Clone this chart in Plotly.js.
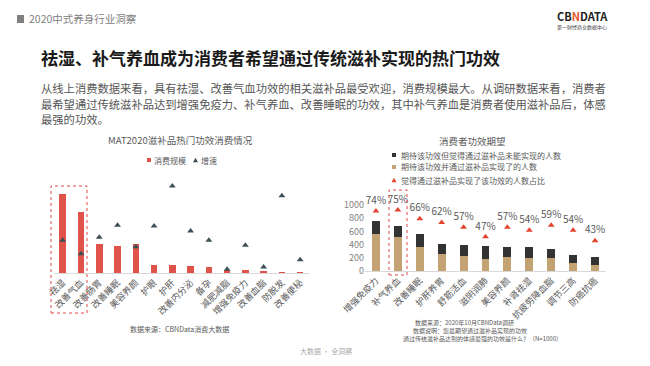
<!DOCTYPE html>
<html><head><meta charset="utf-8">
<script src="https://cdn.plot.ly/plotly-3.0.1.min.js"></script>
<style>html,body{margin:0;padding:0;background:#fff;} #chart{width:650px;height:366px;}</style>
</head><body><div id="chart"></div>
<script>
// ---- Left chart data (MAT2020 滋补品热门功效消费情况) ----
const leftCategories = ['祛湿','改善气血','改善肠胃','改善睡眠','美容养颜','护眼','护肝','改善内分泌','备孕','减肥减脂','增强免疫力','改善血脂','防脱发','改善便秘'];
const leftScale = [100, 77, 37, 34, 37, 9.6, 9.6, 8.4, 7.6, 4.2, 3.8, 2.0, 1.6, 1.6];      // 消费规模 (index)
const leftGrowth = [41.4, 24.4, 45.2, 60.4, 33.3, 59.5, 110.1, 53.2, 41.4, 4.7, 35.1, 7.6, 97.8, 16.8]; // 增速 (index)

// ---- Right chart data (消费者功效期望) ----
const rightCategories = ['增强免疫力','补气养血','改善睡眠','护肝养胃','舒筋活血','滋阴润肺','美容养颜','补肾祛湿','抗疲劳降血脂','调节三高','防癌抗癌'];
const achieved = [561, 510, 369, 253, 227, 177, 207, 192, 197, 126, 91];
const notAchieved = [197, 167, 187, 151, 167, 202, 157, 167, 136, 111, 121];
const ratio = [74, 75, 66, 62, 57, 47, 57, 54, 59, 54, 43];
const rightTicks = [0, 200, 400, 600, 800, 1000];

const W = 650, H = 366;
const px = x => x / W;
const py = y => 1 - y / H;
const FONT = '"Noto Sans CJK SC", "Noto Sans", sans-serif';

const traces = [
  {type:'bar', x:leftCategories, y:leftScale, xaxis:'x', yaxis:'y', marker:{color:'#E0534A'}, name:'消费规模', showlegend:false, hoverinfo:'x+y'},
  {type:'scatter', mode:'markers', x:leftCategories, y:leftGrowth, xaxis:'x', yaxis:'y2', marker:{symbol:'triangle-up', size:6, color:'#3E5056'}, name:'增速', showlegend:false},
  {type:'bar', x:rightCategories, y:achieved, xaxis:'x2', yaxis:'y3', marker:{color:'#C3A374'}, name:'期待该功效并通过滋补品实现了的人数', showlegend:false},
  {type:'bar', x:rightCategories, y:notAchieved, xaxis:'x2', yaxis:'y3', marker:{color:'#333333'}, name:'期待该功效但觉得通过滋补品未能实现的人数', showlegend:false},
  {type:'scatter', mode:'markers+text', x:rightCategories, y:ratio, text:ratio.map(v=>v+'%'), textposition:'top center',
   textfont:{size:10, color:'#595959', family:FONT}, xaxis:'x2', yaxis:'y4',
   marker:{symbol:'triangle-up', size:6, color:'#E2452B'}, name:'觉得通过滋补品实现了该功效的人数占比', showlegend:false, cliponaxis:false}
];

function ann(text, x, y, size, color, opts) {
  return Object.assign({text, x:px(x), y:py(y), xref:'paper', yref:'paper', showarrow:false,
    xanchor:'left', yanchor:'middle', font:{size, color, family:FONT}}, opts||{});
}

const annotations = [
  ann('2020中式养身行业洞察', 27, 19, 10.5, '#808080'),
  ann('<b>CB<span style="color:#E8572A">N</span>DATA</b>', 582, 16, 11, '#222', {xanchor:'center'}),
  ann('第一财经商业数据中心', 582, 26.5, 5, '#444', {xanchor:'center'}),
  ann('<b>祛湿、补气养血成为消费者希望通过传统滋补实现的热门功效</b>', 39, 57, 17, '#1a1a1a'),
  ann('从线上消费数据来看，具有祛湿、改善气血功效的相关滋补品最受欢迎，消费规模最大。从调研数据来看，消费者', 39, 88, 11.3, '#555'),
  ann('最希望通过传统滋补品达到增强免疫力、补气养血、改善睡眠的功效，其中补气养血是消费者使用滋补品后，体感', 39, 104, 11.3, '#555'),
  ann('最强的功效。', 39, 119, 11.3, '#555'),
  ann('MAT2020滋补品热门功效消费情况', 180, 140, 9.5, '#595959', {xanchor:'center'}),
  ann('消费规模', 152, 160, 8, '#595959'),
  ann('增速', 199, 160, 8, '#595959'),
  ann('消费者功效期望', 472, 141, 9.5, '#595959', {xanchor:'center'}),
  ann('期待该功效但觉得通过滋补品未能实现的人数', 399, 155, 8, '#595959'),
  ann('期待该功效并通过滋补品实现了的人数', 399, 167, 8, '#595959'),
  ann('觉得通过滋补品实现了该功效的人数占比', 399, 180, 8, '#595959'),
  ann('数据来源：CBNData消费大数据', 179, 329, 7, '#595959', {xanchor:'center'}),
  ann('数据来源：2020年10月CBNData调研', 413, 322.5, 6, '#595959'),
  ann('数据说明：您最期望通过滋补品实现的功效', 411, 330.5, 6, '#595959'),
  ann('通过传统滋补品达到的体感最强的功效是什么？（N=1000）', 401, 338.5, 6, '#595959'),
  ann('大数据 · 全洞察', 326, 351, 7, '#aaaaaa', {xanchor:'center'})
];

function tri(cx, cy, s) {
  return `M ${px(cx-s)} ${py(cy+s*0.85)} L ${px(cx+s)} ${py(cy+s*0.85)} L ${px(cx)} ${py(cy-s*0.95)} Z`;
}
const shapes = [
  {type:'rect', xref:'paper', yref:'paper', x0:px(17), x1:px(24), y0:py(23), y1:py(15), fillcolor:'#808080', line:{width:0}},
  // dashed highlight boxes
  {type:'rect', xref:'paper', yref:'paper', x0:px(51), x1:px(87), y0:py(313), y1:py(186), line:{color:'#E04848', width:1, dash:'dot'}},
  {type:'rect', xref:'paper', yref:'paper', x0:px(389), x1:px(407), y0:py(275), y1:py(190), line:{color:'#E04848', width:1, dash:'dot'}},
  // legend symbols
  {type:'rect', xref:'paper', yref:'paper', x0:px(147), x1:px(151), y0:py(162), y1:py(158), fillcolor:'#E0534A', line:{width:0}},
  {type:'path', xref:'paper', yref:'paper', path:tri(195.5, 160, 2.5), fillcolor:'#3E5056', line:{width:0}},
  {type:'rect', xref:'paper', yref:'paper', x0:px(392), x1:px(396), y0:py(157), y1:py(153), fillcolor:'#333333', line:{width:0}},
  {type:'rect', xref:'paper', yref:'paper', x0:px(392), x1:px(396), y0:py(169), y1:py(165), fillcolor:'#C3A374', line:{width:0}},
  {type:'path', xref:'paper', yref:'paper', path:tri(394, 180, 2.5), fillcolor:'#E2452B', line:{width:0}}
];

const layout = {
  width:W, height:H, margin:{l:0,r:0,t:0,b:0}, paper_bgcolor:'#fff', plot_bgcolor:'rgba(0,0,0,0)',
  font:{family:FONT, color:'#595959'},
  barmode:'stack', bargap:0.64, showlegend:false,
  xaxis:{domain:[px(53.6), px(309.3)], anchor:'y', type:'category', range:[-0.5,13.5], tickangle:-45,
    tickfont:{size:9, color:'#595959'}, showline:true, linecolor:'#d9d9d9', linewidth:1, ticks:'', showgrid:false, automargin:false, fixedrange:true},
  yaxis:{domain:[py(273), py(180)], range:[0,117.7], visible:false, showgrid:false, zeroline:false, fixedrange:true},
  yaxis2:{overlaying:'y', range:[0,117.7], visible:false, showgrid:false, zeroline:false, fixedrange:true},
  xaxis2:{domain:[px(365), px(606)], anchor:'y3', type:'category', range:[-0.5,10.5], tickangle:-45,
    tickfont:{size:9, color:'#595959'}, showline:true, linecolor:'#d9d9d9', linewidth:1, ticks:'', showgrid:false, automargin:false, fixedrange:true},
  yaxis3:{domain:[py(271), py(190)], anchor:'x2', range:[0,1227], tickvals:rightTicks, tickfont:{size:9, color:'#7f7f7f'},
    showgrid:false, zeroline:false, showline:false, ticks:'', automargin:false, fixedrange:true},
  yaxis4:{overlaying:'y3', anchor:'x2', range:[11.4,95.9], visible:false, showgrid:false, zeroline:false, fixedrange:true},
  annotations, shapes
};

Plotly.newPlot('chart', traces, layout, {staticPlot:true, displayModeBar:false});
</script>
</body></html>
